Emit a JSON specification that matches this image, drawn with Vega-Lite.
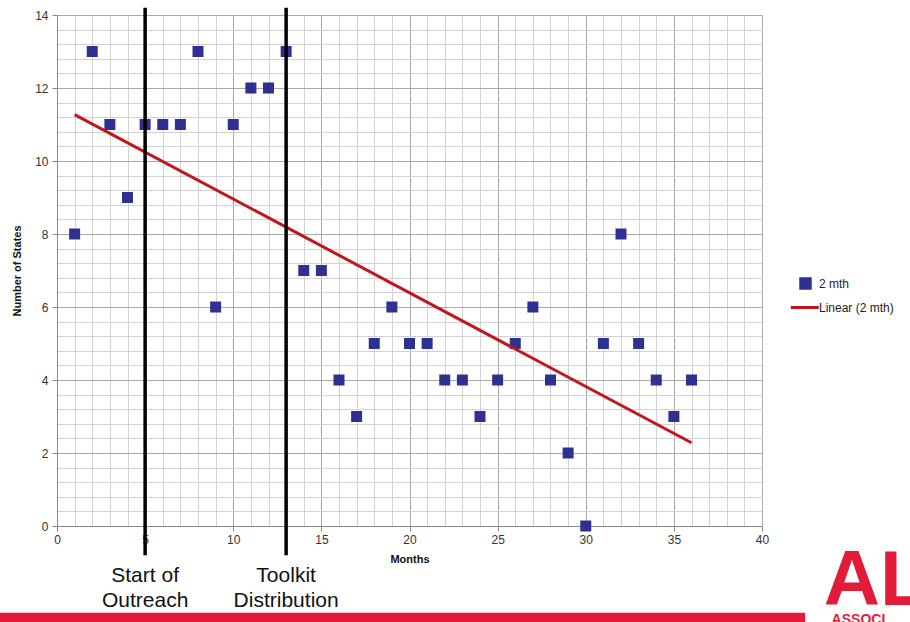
{
  "$schema": "https://vega.github.io/schema/vega-lite/v6.json",
  "autosize": {"type": "none"},
  "width": 705,
  "height": 511,
  "padding": {"left": 57, "top": 15, "right": 148, "bottom": 96},
  "background": "white",
  "config": {
    "view": {"stroke": null},
    "font": "Liberation Sans",
    "axis": {"labelFont": "Liberation Sans", "titleFont": "Liberation Sans"}
  },
  "datasets": {
    "points": [
      {"month": 1, "states": 8, "series": "2 mth"},
      {"month": 2, "states": 13, "series": "2 mth"},
      {"month": 3, "states": 11, "series": "2 mth"},
      {"month": 4, "states": 9, "series": "2 mth"},
      {"month": 5, "states": 11, "series": "2 mth"},
      {"month": 6, "states": 11, "series": "2 mth"},
      {"month": 7, "states": 11, "series": "2 mth"},
      {"month": 8, "states": 13, "series": "2 mth"},
      {"month": 9, "states": 6, "series": "2 mth"},
      {"month": 10, "states": 11, "series": "2 mth"},
      {"month": 11, "states": 12, "series": "2 mth"},
      {"month": 12, "states": 12, "series": "2 mth"},
      {"month": 13, "states": 13, "series": "2 mth"},
      {"month": 14, "states": 7, "series": "2 mth"},
      {"month": 15, "states": 7, "series": "2 mth"},
      {"month": 16, "states": 4, "series": "2 mth"},
      {"month": 17, "states": 3, "series": "2 mth"},
      {"month": 18, "states": 5, "series": "2 mth"},
      {"month": 19, "states": 6, "series": "2 mth"},
      {"month": 20, "states": 5, "series": "2 mth"},
      {"month": 21, "states": 5, "series": "2 mth"},
      {"month": 22, "states": 4, "series": "2 mth"},
      {"month": 23, "states": 4, "series": "2 mth"},
      {"month": 24, "states": 3, "series": "2 mth"},
      {"month": 25, "states": 4, "series": "2 mth"},
      {"month": 26, "states": 5, "series": "2 mth"},
      {"month": 27, "states": 6, "series": "2 mth"},
      {"month": 28, "states": 4, "series": "2 mth"},
      {"month": 29, "states": 2, "series": "2 mth"},
      {"month": 30, "states": 0, "series": "2 mth"},
      {"month": 31, "states": 5, "series": "2 mth"},
      {"month": 32, "states": 8, "series": "2 mth"},
      {"month": 33, "states": 5, "series": "2 mth"},
      {"month": 34, "states": 4, "series": "2 mth"},
      {"month": 35, "states": 3, "series": "2 mth"},
      {"month": 36, "states": 4, "series": "2 mth"}
    ],
    "trend": [
      {"month": 1, "states": 11.27, "series": "Linear (2 mth)"},
      {"month": 36, "states": 2.28, "series": "Linear (2 mth)"}
    ],
    "events": [
      {"month": 5, "label": "Start of\nOutreach"},
      {"month": 13, "label": "Toolkit\nDistribution"}
    ]
  },
  "layer": [
    {
      "data": {"name": "points"},
      "mark": {"type": "point", "filled": true, "opacity": 1, "size": 121},
      "encoding": {
        "x": {
          "field": "month", "type": "quantitative",
          "scale": {"domain": [0, 40], "nice": false, "zero": false},
          "axis": {
            "title": "Months",
            "titleFontSize": 11, "titleFontWeight": "bold", "titleColor": "#111", "titlePadding": 8,
            "values": [0,1,2,3,4,5,6,7,8,9,10,11,12,13,14,15,16,17,18,19,20,21,22,23,24,25,26,27,28,29,30,31,32,33,34,35,36,37,38,39,40],
            "tickCount": 100,
            "labelExpr": "datum.value % 5 === 0 ? '' + datum.value : ''",
            "labelOverlap": false,
            "labelFontSize": 12, "labelColor": "#333", "labelPadding": 3, "labelFlush": false,
            "tickSize": 5,
            "tickColor": {"condition": {"test": "datum.value % 5 === 0", "value": "#888"}, "value": "transparent"},
            "domainColor": "#888",
            "grid": true,
            "gridColor": {"condition": {"test": "datum.value % 5 === 0", "value": "#a8a8a8"}, "value": "#d2d2d2"},
            "gridWidth": 1
          }
        },
        "y": {
          "field": "states", "type": "quantitative",
          "scale": {"domain": [0, 14], "nice": false},
          "axis": {
            "title": "Number of States",
            "titleFontSize": 11, "titleFontWeight": "bold", "titleColor": "#111", "titlePadding": 12,
            "values": [0,0.4,0.8,1.2,1.6,2,2.4,2.8,3.2,3.6,4,4.4,4.8,5.2,5.6,6,6.4,6.8,7.2,7.6,8,8.4,8.8,9.2,9.6,10,10.4,10.8,11.2,11.6,12,12.4,12.8,13.2,13.6,14],
            "tickCount": 100,
            "labelExpr": "datum.value % 2 === 0 ? '' + datum.value : ''",
            "labelOverlap": false,
            "labelFontSize": 12, "labelColor": "#333", "labelPadding": 4, "labelFlush": false,
            "tickSize": 5,
            "tickColor": {"condition": {"test": "datum.value % 2 === 0", "value": "#888"}, "value": "transparent"},
            "domainColor": "#888",
            "grid": true,
            "gridColor": {"condition": {"test": "datum.value % 2 === 0", "value": "#a8a8a8"}, "value": "#d2d2d2"},
            "gridWidth": 1
          }
        },
        "color": {
          "field": "series", "type": "nominal",
          "scale": {"domain": ["2 mth", "Linear (2 mth)"], "range": ["#2e3192", "#c0161c"]},
          "legend": {
            "title": null, "orient": "none", "legendX": 742, "legendY": 262,
            "padding": 0, "symbolSize": 90, "labelFontSize": 12, "labelColor": "#222",
            "labelFont": "Liberation Sans", "labelOffset": 7, "rowPadding": 6,
            "symbolStrokeWidth": 3,
            "encode": {
              "symbols": {
                "update": {
                  "strokeWidth": {"signal": "datum.value === '2 mth' ? 0 : 3"},
                  "stroke": {"signal": "datum.value === '2 mth' ? 'transparent' : '#c0161c'"}
                }
              }
            }
          }
        },
        "shape": {
          "field": "series", "type": "nominal",
          "scale": {"domain": ["2 mth", "Linear (2 mth)"], "range": ["M-1,-1H1V1H-1Z", "M-3.1,0H2.8"]},
          "legend": {
            "title": null, "orient": "none", "legendX": 742, "legendY": 262,
            "padding": 0, "symbolSize": 90, "labelFontSize": 12, "labelColor": "#222",
            "labelFont": "Liberation Sans", "labelOffset": 7, "rowPadding": 6,
            "symbolStrokeWidth": 3,
            "encode": {
              "symbols": {
                "update": {
                  "strokeWidth": {"signal": "datum.value === '2 mth' ? 0 : 3"},
                  "stroke": {"signal": "datum.value === '2 mth' ? 'transparent' : '#c0161c'"}
                }
              }
            }
          }
        }
      }
    },
    {
      "data": {"name": "trend"},
      "mark": {"type": "line", "strokeWidth": 3},
      "encoding": {
        "x": {"field": "month", "type": "quantitative"},
        "y": {"field": "states", "type": "quantitative"},
        "color": {"field": "series", "type": "nominal"}
      }
    },
    {
      "data": {"name": "events"},
      "mark": {"type": "rule", "color": "#000", "strokeWidth": 3.5},
      "encoding": {
        "x": {"field": "month", "type": "quantitative"},
        "y": {"datum": 14.2},
        "y2": {"datum": -0.8}
      }
    },
    {
      "data": {"name": "events"},
      "mark": {"type": "text", "fontSize": 21, "lineBreak": "\n", "lineHeight": 25, "baseline": "top", "align": "center", "color": "#111", "font": "Liberation Sans"},
      "encoding": {
        "x": {"field": "month", "type": "quantitative"},
        "y": {"datum": -1.07},
        "text": {"field": "label"}
      }
    },
    {
      "data": {"values": [{}]},
      "mark": {"type": "rect", "color": "#e31b3a"},
      "encoding": {
        "x": {"datum": -3.3},
        "x2": {"datum": 42.45},
        "y": {"datum": -2.38},
        "y2": {"datum": -2.75}
      }
    },
    {
      "data": {"values": [{"t": "AL"}]},
      "mark": {"type": "text", "fontSize": 78, "fontWeight": "bold", "align": "left", "baseline": "alphabetic", "color": "#e31b3a", "font": "Liberation Sans"},
      "encoding": {
        "x": {"datum": 43.5},
        "y": {"datum": -2.17},
        "text": {"field": "t"}
      }
    },
    {
      "data": {"values": [{"t": "ASSOCI"}]},
      "mark": {"type": "text", "fontSize": 14, "fontWeight": "bold", "align": "left", "baseline": "top", "color": "#e31b3a", "font": "Liberation Sans"},
      "encoding": {
        "x": {"datum": 43.95},
        "y": {"datum": -2.38},
        "text": {"field": "t"}
      }
    }
  ]
}
